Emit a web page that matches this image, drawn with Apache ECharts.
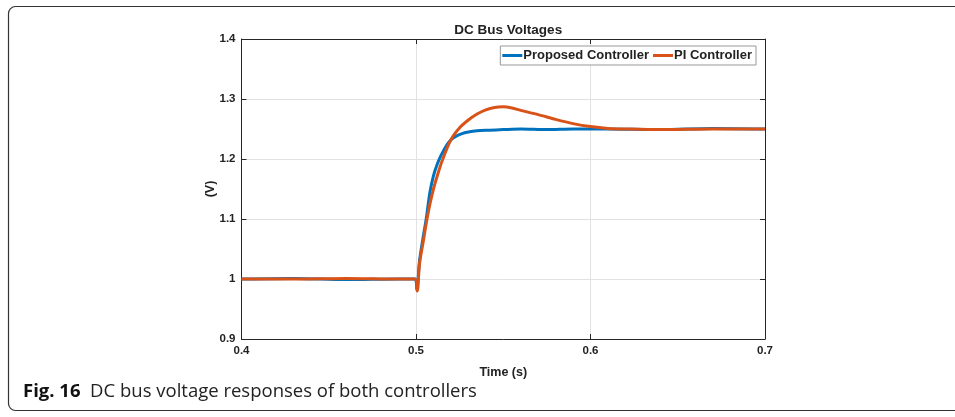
<!DOCTYPE html>
<html><head><meta charset="utf-8">
<script src="https://cdn.jsdelivr.net/npm/echarts@6/dist/echarts.min.js"></script>
<style>html,body{margin:0;padding:0;background:#fff;}#c{width:955px;height:417px;}</style>
</head><body><div id="c"></div>
<script>
var titleText = "DC Bus Voltages";
var xLabel = "Time (s)";
var yLabel = "(V)";
var captionBold = "Fig. 16";
var captionText = "DC bus voltage responses of both controllers";
var seriesNames = ["Proposed Controller", "PI Controller"];

var timesProposed = [0.4, 0.43, 0.46, 0.49, 0.4995, 0.5005, 0.502, 0.504, 0.506, 0.508, 0.51, 0.512, 0.514, 0.516, 0.518, 0.52, 0.523, 0.526, 0.53, 0.535, 0.542, 0.55, 0.56, 0.575, 0.59, 0.61, 0.64, 0.67, 0.7];
var valuesProposed = [1.0, 1.001, 0.999, 1.0, 1.0, 0.982, 1.03, 1.068, 1.103, 1.145, 1.172, 1.19, 1.204, 1.215, 1.225, 1.232, 1.238, 1.242, 1.245, 1.247, 1.248, 1.249, 1.25, 1.249, 1.25, 1.25, 1.249, 1.251, 1.25];

var timesPI = [0.4, 0.43, 0.46, 0.49, 0.4995, 0.5007, 0.502, 0.504, 0.506, 0.508, 0.51, 0.512, 0.515, 0.52, 0.525, 0.53, 0.535, 0.54, 0.545, 0.55, 0.555, 0.56, 0.57, 0.58, 0.59, 0.6, 0.61, 0.62, 0.64, 0.67, 0.7];
var valuesPI = [1.0, 1.0, 1.001, 1.0, 1.0, 0.98, 1.025, 1.06, 1.095, 1.125, 1.15, 1.17, 1.197, 1.232, 1.252, 1.265, 1.275, 1.282, 1.286, 1.287, 1.285, 1.281, 1.274, 1.266, 1.259, 1.254, 1.251, 1.25, 1.249, 1.25, 1.25];

var xTicks = [0.4, 0.5, 0.6, 0.7];
var yTicks = [0.9, 1, 1.1, 1.2, 1.3, 1.4];

function pairs(t, v) { return t.map(function (x, i) { return [x, v[i]]; }); }

var chart = echarts.init(document.getElementById('c'), null, {renderer: 'canvas'});
var axisCol = '#262626';
var font = 'Liberation Sans, Arial, sans-serif';
var L = 241.5, R = 765, T = 39, B = 339;
chart.setOption({
  animation: false,
  backgroundColor: '#fff',
  title: {
    text: titleText, left: (L + R) / 2, textAlign: 'center', top: 18,
    textStyle: {fontFamily: font, fontWeight: 'bold', fontSize: 13.5, color: '#222'}
  },
  legend: {
    right: 955 - 756, top: 46, itemWidth: 20, itemHeight: 3, itemGap: 4,
    padding: [3, 4, 3, 2],
    borderColor: '#999', borderWidth: 1, backgroundColor: '#fff',
    icon: 'rect',
    textStyle: {fontFamily: font, fontWeight: 'bold', fontSize: 13, color: '#222', padding: [0, 0, 0, -4]},
    data: seriesNames
  },
  grid: {left: L, right: 955 - R, top: T, bottom: 417 - B},
  xAxis: [{
    type: 'value', min: 0.4, max: 0.7, interval: 0.1,
    name: xLabel, nameLocation: 'middle', nameGap: 27,
    nameTextStyle: {fontFamily: font, fontWeight: 'bold', fontSize: 12.5, color: '#222'},
    axisLine: {onZero: false, lineStyle: {color: axisCol, width: 1}},
    axisTick: {inside: true, length: 5, lineStyle: {color: axisCol}},
    axisLabel: {fontFamily: font, fontWeight: 'bold', fontSize: 11.5, color: '#222', margin: 6},
    splitLine: {show: true, lineStyle: {color: '#e2e2e2', width: 1}}
  }, {
    type: 'value', position: 'top', min: 0.4, max: 0.7, interval: 0.1,
    axisLine: {onZero: false, lineStyle: {color: axisCol}},
    axisTick: {inside: true, length: 5, lineStyle: {color: axisCol}},
    axisLabel: {show: false}, splitLine: {show: false}
  }],
  yAxis: [{
    type: 'value', min: 0.9, max: 1.4, interval: 0.1,
    name: yLabel, nameLocation: 'middle', nameGap: 24, nameRotate: 90, nameMoveOverlap: false,
    nameTextStyle: {fontFamily: font, fontWeight: 'bold', fontSize: 12.5, color: '#222'},
    axisLine: {onZero: false, lineStyle: {color: axisCol, width: 1}},
    axisTick: {inside: true, length: 5, lineStyle: {color: axisCol}},
    axisLabel: {fontFamily: font, fontWeight: 'bold', fontSize: 11.5, color: '#222', margin: 6},
    splitLine: {show: true, lineStyle: {color: '#e2e2e2', width: 1}}
  }, {
    type: 'value', position: 'right', min: 0.9, max: 1.4, interval: 0.1,
    axisLine: {show: true, onZero: false, lineStyle: {color: axisCol}},
    axisTick: {show: true, inside: true, length: 5, lineStyle: {color: axisCol}},
    axisLabel: {show: false}, splitLine: {show: false}
  }],
  series: [{
    name: seriesNames[0], type: 'line', showSymbol: false, smooth: 0.3,
    color: '#0072BD', lineStyle: {width: 3, color: '#0072BD'},
    data: pairs(timesProposed, valuesProposed), z: 2
  }, {
    name: seriesNames[1], type: 'line', showSymbol: false, smooth: 0.3,
    color: '#D95319', lineStyle: {width: 3, color: '#D95319'},
    data: pairs(timesPI, valuesPI), z: 3
  }],
  graphic: [{
    type: 'rect', shape: {x: 8.5, y: 6.5, width: 960, height: 404, r: 7},
    style: {fill: 'none', stroke: '#333', lineWidth: 1.2}, z: -1
  }, {
    type: 'text', left: 23, top: 382,
    style: {
      rich: {
        b: {fontFamily: 'Open Sans, sans-serif', fontWeight: 'bold', fontSize: 18.5, fill: '#111'},
        n: {fontFamily: 'Open Sans, sans-serif', fontSize: 18.5, fill: '#222'}
      },
      text: '{b|' + captionBold + '}{n|  ' + captionText + '}'
    }
  }]
});
</script></body></html>
